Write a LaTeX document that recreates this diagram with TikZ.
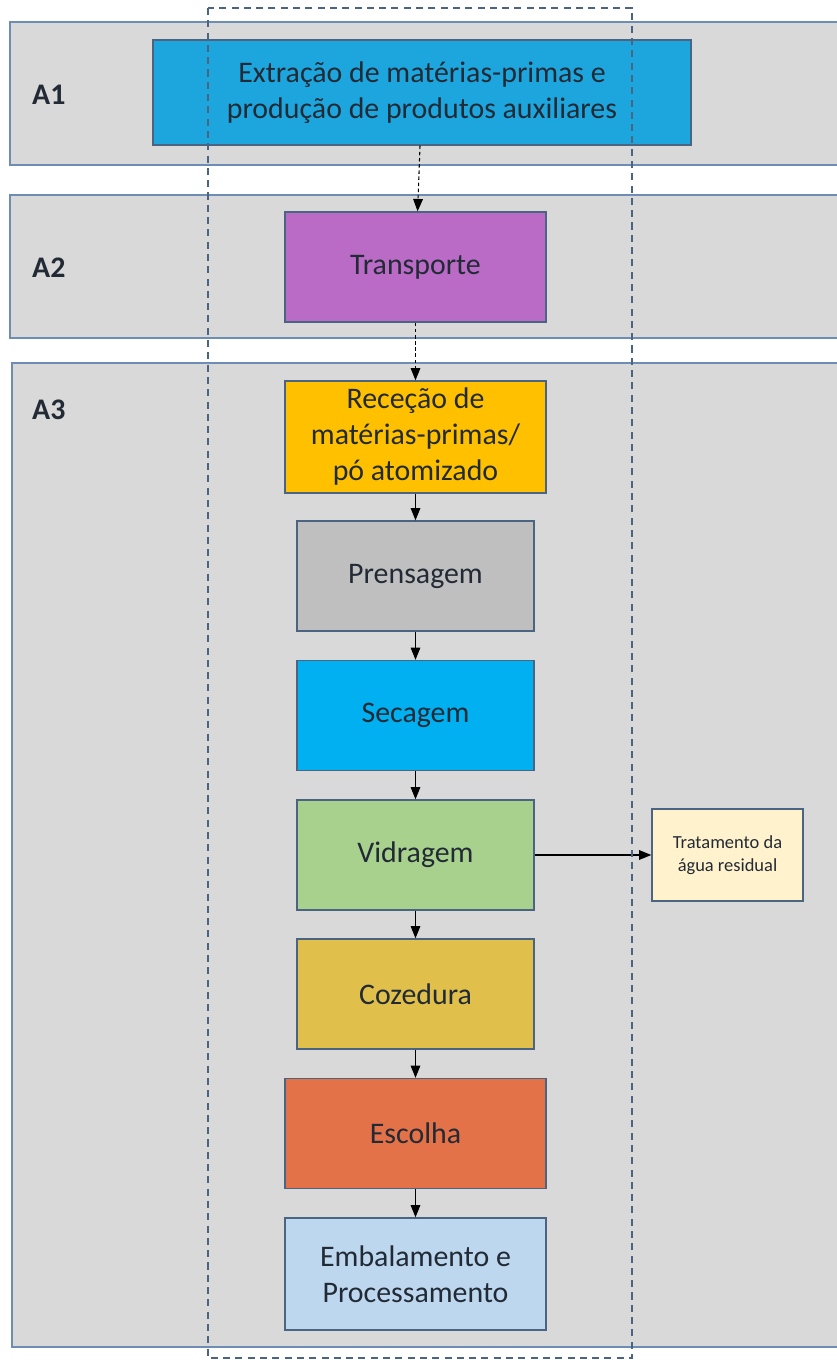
\documentclass[tikz,border=0pt]{standalone}
\usepackage{fontspec}
\setmainfont{Carlito}
\usetikzlibrary{arrows.meta}

\definecolor{bandgray}{HTML}{D9D9D9}
\definecolor{bandline}{HTML}{6E8DB5}
\definecolor{boxline}{HTML}{4A6482}
\definecolor{txt}{HTML}{222A35}
\definecolor{cextr}{HTML}{1DA6DE}
\definecolor{ctransp}{HTML}{B96BC6}
\definecolor{crecep}{HTML}{FFC000}
\definecolor{cprens}{HTML}{BFBFBF}
\definecolor{csecag}{HTML}{00B0F0}
\definecolor{cvidr}{HTML}{A9D18E}
\definecolor{ccoz}{HTML}{E0C04B}
\definecolor{cesc}{HTML}{E37248}
\definecolor{cemb}{HTML}{BDD7EE}
\definecolor{ctrat}{HTML}{FFF2CC}

\begin{document}
\begin{tikzpicture}[x=0.02cm,y=-0.02cm,
    band/.style={draw=bandline, fill=bandgray, line width=1.3pt},
    stage/.style={draw=boxline, line width=0.8pt, text=txt, align=center,
        minimum width=5.22cm, minimum height=2.2cm, inner sep=2pt,
        font=\fontsize{17}{20.5}\selectfont},
    narrow/.style={stage, minimum width=4.74cm},
    tag/.style={anchor=west, text=txt, font=\bfseries\fontsize{17}{20}\selectfont},
    flow/.style={-{Triangle[length=7pt,width=5.5pt]}, line width=0.6pt, black},
    flowdash/.style={flow, dash pattern=on 2pt off 1.5pt}]

    \useasboundingbox (0,0) rectangle (837,1365);

    % faixas
    \draw[band] (10,22) rectangle (850,165);
    \draw[band] (10,195) rectangle (850,338);
    \draw[band] (12,363) rectangle (850,1347);

    \node[tag] (a1) at (26,95) {A1};
    \node[tag] (a2) at (26,268) {A2};
    \node[tag] (a3) at (26,410) {A3};

    % etapas
    \node[stage, fill=cextr, minimum width=10.76cm, minimum height=2.1cm] (extr) at (422,92.5)
        {Extração de matérias-primas e\\produção de produtos auxiliares};
    \node[stage, fill=ctransp] (transp) at (415.5,267) {Transporte};
    \node[stage, fill=crecep, minimum height=2.24cm] (recep) at (415.5,437)
        {Receção de\\matérias-primas/\\pó atomizado};
    \node[narrow, fill=cprens] (prens) at (415.5,576) {Prensagem};
    \node[narrow, fill=csecag] (secag) at (415.5,715.5) {Secagem};
    \node[narrow, fill=cvidr] (vidr) at (415.5,855) {Vidragem};
    \node[narrow, fill=ccoz] (coz) at (415.5,994) {Cozedura};
    \node[stage, fill=cesc] (esc) at (415.5,1133.5) {Escolha};
    \node[stage, fill=cemb, minimum height=2.24cm] (emb) at (415.5,1274)
        {Embalamento e\\Processamento};

    \node[stage, fill=ctrat, minimum width=3.02cm, minimum height=1.84cm,
        font=\fontsize{10.5}{13}\selectfont] (trat) at (727.5,855)
        {Tratamento da\\água residual};

    % ligacoes
    \draw[flowdash] (extr) -- (transp);
    \draw[flowdash] (transp) -- (recep);
    \draw[flow] (recep) -- (prens);
    \draw[flow] (prens) -- (secag);
    \draw[flow] (secag) -- (vidr);
    \draw[flow] (vidr) -- (coz);
    \draw[flow] (coz) -- (esc);
    \draw[flow] (esc) -- (emb);
    \draw[flow] (vidr.east) -- (trat.west);

    % limite do sistema
    \draw[boxline, line width=0.7pt, dash pattern=on 4pt off 3pt] (208,8) rectangle (632,1358);

\end{tikzpicture}
\end{document}
